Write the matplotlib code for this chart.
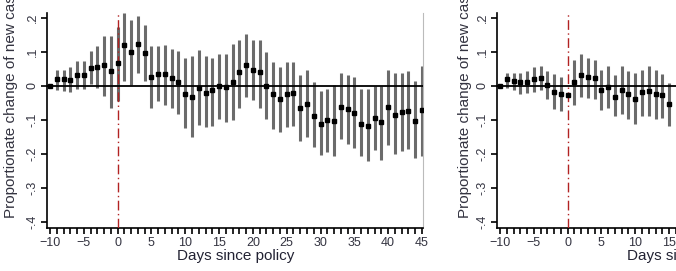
import numpy as np
import matplotlib
matplotlib.use("Agg")
import matplotlib.pyplot as plt
from matplotlib.ticker import MultipleLocator

plt.rcParams['font.family'] = ['Liberation Sans', 'DejaVu Sans']

# left panel: event-study estimates, days -10..45
days_a = np.arange(-10, 46)
coef_a = [0, .02, .02, .018, .032, .032, .054, .055, .062, .043,
          .068, .12, .10, .125, .097, .026, .034, .034, .023, .011,
          -.025, -.031, -.005, -.02, -.013, -.001, -.004, .012, .04, .063,
          .046, .04, 0, -.025, -.038, -.025, -.02, -.065, -.053, -.087,
          -.111, -.099, -.103, -.061, -.069, -.08, -.111, -.118, -.095, -.107,
          -.061, -.084, -.076, -.073, -.104, -.072]
upper_a = [np.nan, .048, .048, .056, .073, .073, .102, .118, .148, .148,
           .174, .215, .195, .206, .181, .118, .118, .12, .109, .102,
           .083, .087, .105, .087, .083, .095, .095, .125, .136, .154,
           .136, .136, .1, .072, .056, .072, .072, .032, .048, .013,
           -.015, -.008, .003, .039, .032, .025, -.008, -.01, .001, .001,
           .048, .039, .039, .044, .014, .06]
lower_a = [np.nan, -.013, -.015, -.019, -.009, -.009, .005, -.006, -.03, -.064,
           -.044, .016, .004, .039, .016, -.064, -.043, -.055, -.064, -.083,
           -.124, -.15, -.116, -.122, -.117, -.097, -.107, -.099, -.064, -.032,
           -.04, -.064, -.097, -.128, -.135, -.12, -.117, -.161, -.15, -.181,
           -.202, -.194, -.205, -.157, -.171, -.182, -.207, -.22, -.189, -.217,
           -.175, -.201, -.19, -.185, -.212, -.205]

# right panel (cut off at the image edge), days -10..15
days_b = np.arange(-10, 16)
coef_b = [0, .02, .016, .011, .013, .02, .023, .004, -.019, -.025,
          -.026, .013, .032, .027, .024, -.011, -.003, -.031, -.011, -.025,
          -.038, -.019, -.014, -.025, -.026, -.053]
upper_b = [np.nan, .039, .039, .039, .044, .056, .06, .044, .034, .027,
           np.nan, .077, .095, .083, .077, .048, .06, .032, .06, .044,
           .039, .048, .06, .048, .036, .009]
lower_b = [np.nan, -.005, -.013, -.025, -.021, -.017, -.013, -.037, -.067, -.075,
           np.nan, -.055, -.033, -.035, -.038, -.072, -.064, -.089, -.083, -.098,
           -.112, -.089, -.089, -.097, -.094, -.118]

yticks = [-.4, -.3, -.2, -.1, 0, .1, .2]
ytick_labels = ['-.4', '-.3', '-.2', '-.1', '0', '.1', '.2']
xticks = [-10, -5, 0, 5, 10, 15, 20, 25, 30, 35, 40, 45]

W, H = 676, 271
fig = plt.figure(figsize=(W / 100, H / 100), dpi=100)


def draw_panel(ax, days, coef, lo, hi, ylab_x):
    ax.vlines(days, lo, hi, color='#6b6b6b', lw=2.2, zorder=2)
    ax.axhline(0, color='black', lw=1.3, zorder=3)
    ax.axvline(0, color='#b22222', lw=1.0, ls=(0, (7, 2.5, 1, 2.5)), zorder=4)
    ax.plot(days, coef, 's', color='black', ms=3, zorder=5)
    ax.set_xlim(-10.4, 45.2)
    ax.set_ylim(-0.419, 0.214)
    ax.spines['top'].set_visible(False)
    ax.spines['right'].set_color('#bbbbbb')
    ax.spines['left'].set_linewidth(1.2)
    ax.spines['bottom'].set_linewidth(1.2)
    ax.set_xticks(xticks)
    ax.xaxis.set_minor_locator(MultipleLocator(1))
    ax.tick_params(axis='x', which='both', length=4, width=1.2, pad=2,
                   labelsize=9, labelcolor='#333340')
    ax.set_yticks(yticks)
    ax.set_yticklabels(ytick_labels, rotation=90, va='center')
    ax.tick_params(axis='y', length=4, width=1.2, pad=2,
                   labelsize=9, labelcolor='#333340')
    ax.set_xlabel('Days since policy', fontsize=11, color='#222233')
    ax.xaxis.set_label_coords(0.5, -0.095)
    ax.set_ylabel('Proportionate change of new cases', fontsize=11, color='#333340')
    ax.yaxis.set_label_coords(ylab_x, 0.605)


ax1 = fig.add_axes([47.3 / W, (H - 228.3) / H, 376 / W, 215 / H])
draw_panel(ax1, days_a, coef_a, lower_a, upper_a, -0.078)

ax2 = fig.add_axes([497.3 / W, (H - 228.3) / H, 376 / W, 215 / H])
draw_panel(ax2, days_b, coef_b, lower_b, upper_b, -0.067)

fig.savefig('out.png', dpi=100)
